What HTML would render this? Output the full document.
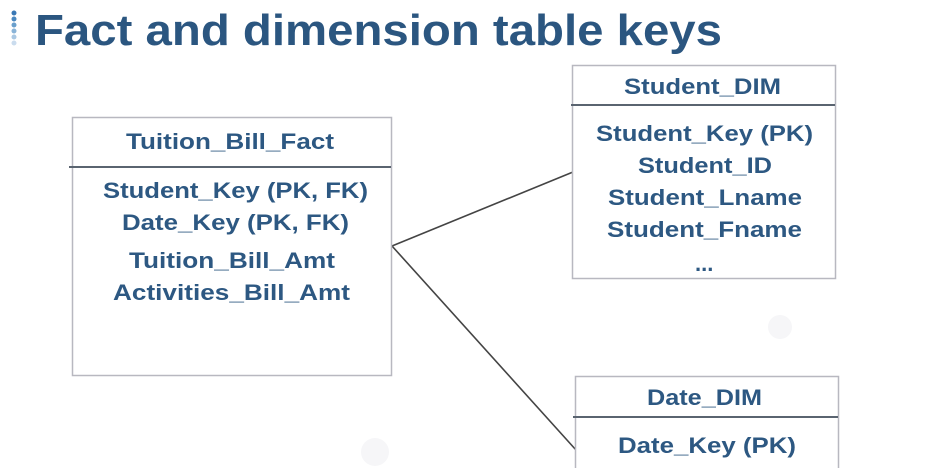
<!DOCTYPE html>
<html><head><meta charset="utf-8"><style>
html,body{margin:0;padding:0;background:#fff;width:927px;height:469px;overflow:hidden;}
svg{display:block;}
text{font-family:"Liberation Sans",sans-serif;font-weight:bold;fill:#2d5882;}
</style></head><body>
<svg width="927" height="469" viewBox="0 0 927 469" xmlns="http://www.w3.org/2000/svg">
<rect width="927" height="469" fill="#fff"/>
<g fill="#f6f6f8">
<circle cx="780" cy="327" r="12"/>
<circle cx="600" cy="393" r="12"/>
<circle cx="375" cy="452" r="14"/>
</g>
<g>
<circle cx="14" cy="13" r="2.5" fill="#3a78b5"/>
<circle cx="14" cy="19" r="2.5" fill="#4a88c0"/>
<circle cx="14" cy="25" r="2.5" fill="#6a9fcc"/>
<circle cx="14" cy="31" r="2.5" fill="#8ab4d8"/>
<circle cx="14" cy="37" r="2.5" fill="#aac8e3"/>
<circle cx="14" cy="43" r="2.5" fill="#cadcee"/>
</g>
<text x="35" y="45" font-size="44" textLength="687" lengthAdjust="spacingAndGlyphs" style="fill:#2b5680">Fact and dimension table keys</text>
<line x1="392" y1="246" x2="573" y2="172" stroke="#444" stroke-width="1.6"/>
<line x1="392" y1="246" x2="576" y2="450" stroke="#444" stroke-width="1.6"/>
<rect x="72.5" y="117.5" width="319" height="258" fill="none" stroke="#b8b8c0" stroke-width="1.5"/>
<line x1="69" y1="167" x2="391" y2="167" stroke="#5a6470" stroke-width="2"/>
<text x="126" y="149" font-size="22" textLength="208" lengthAdjust="spacingAndGlyphs">Tuition_Bill_Fact</text>
<text x="103" y="198" font-size="22" textLength="265" lengthAdjust="spacingAndGlyphs">Student_Key (PK, FK)</text>
<text x="122" y="230" font-size="22" textLength="227" lengthAdjust="spacingAndGlyphs">Date_Key (PK, FK)</text>
<text x="129" y="268" font-size="22" textLength="206" lengthAdjust="spacingAndGlyphs">Tuition_Bill_Amt</text>
<text x="113" y="300" font-size="22" textLength="237" lengthAdjust="spacingAndGlyphs">Activities_Bill_Amt</text>
<rect x="572.5" y="65.5" width="263" height="213" fill="#fff" stroke="#b8b8c0" stroke-width="1.5"/>
<line x1="571" y1="105" x2="835" y2="105" stroke="#5a6470" stroke-width="2"/>
<text x="624" y="94" font-size="22" textLength="157" lengthAdjust="spacingAndGlyphs">Student_DIM</text>
<text x="596" y="141" font-size="22" textLength="217" lengthAdjust="spacingAndGlyphs">Student_Key (PK)</text>
<text x="638" y="173" font-size="22" textLength="134" lengthAdjust="spacingAndGlyphs">Student_ID</text>
<text x="608" y="205" font-size="22" textLength="194" lengthAdjust="spacingAndGlyphs">Student_Lname</text>
<text x="607" y="237" font-size="22" textLength="195" lengthAdjust="spacingAndGlyphs">Student_Fname</text>
<text x="695" y="271" font-size="22">...</text>
<path d="M575.5 468 V376.5 H838.5 V468" fill="#fff" stroke="#b8b8c0" stroke-width="1.5"/>
<line x1="573" y1="417" x2="838" y2="417" stroke="#5a6470" stroke-width="2"/>
<text x="647" y="405" font-size="22" textLength="115" lengthAdjust="spacingAndGlyphs">Date_DIM</text>
<text x="618" y="453" font-size="22" textLength="178" lengthAdjust="spacingAndGlyphs">Date_Key (PK)</text>
</svg>
</body></html>
